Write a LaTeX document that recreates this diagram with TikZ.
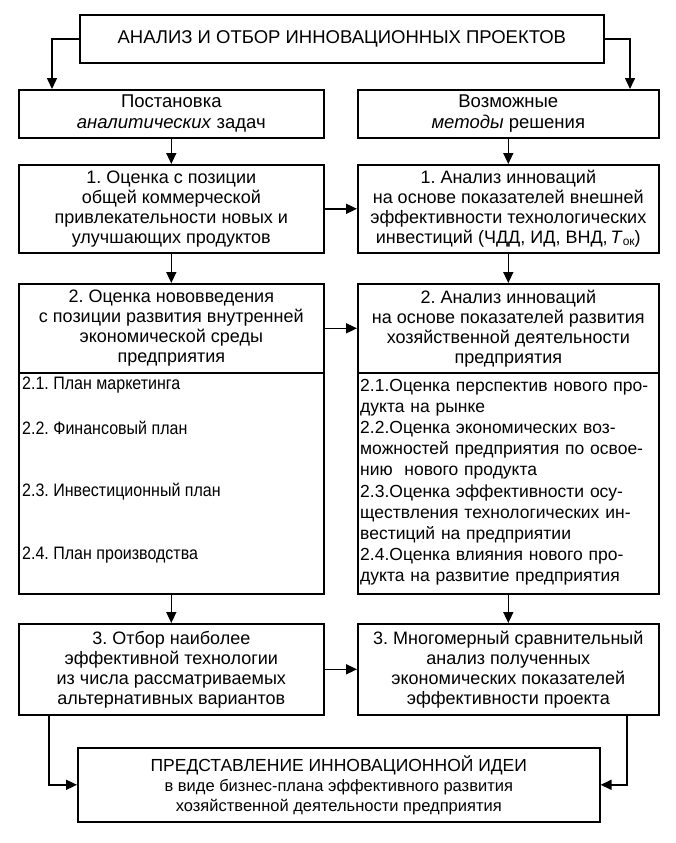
\documentclass[tikz,border=0pt]{standalone}
\usepackage{fontspec}
\setmainfont{Liberation Sans}
\newfontfamily\condfont[FakeStretch=0.89]{Liberation Sans}
\usetikzlibrary{arrows.meta}
\frenchspacing
\begin{document}
\begin{tikzpicture}[x=1pt,y=-1pt,
  box/.style={draw, line width=1.6pt, rectangle, inner sep=0pt, anchor=north west, align=center, font=\fontsize{18}{20}\selectfont},
  arr/.style={line width=1.6pt, -{Triangle[length=11pt,width=10pt]}},
  subitem/.style={anchor=west, inner sep=0pt, font=\condfont\fontsize{18}{20}\selectfont}]
\useasboundingbox (0,0) rectangle (675,843);
\node[box, minimum width=524pt, minimum height=48pt, font=\fontsize{18.5}{20}\selectfont] (top) at (79,14) {АНАЛИЗ И ОТБОР ИННОВАЦИОННЫХ ПРОЕКТОВ};
\node[box, minimum width=305pt, minimum height=48pt, font=\fontsize{18.5}{21}\selectfont] (post) at (18,89) {Постановка\\\textit{аналитических} задач};
\node[box, minimum width=301pt, minimum height=48pt, font=\fontsize{18.5}{21}\selectfont] (meth) at (357,89) {Возможные\\\textit{методы} решения};
\node[box, minimum width=305pt, minimum height=88pt] (l1) at (18,164) {1. Оценка с позиции\\общей коммерческой\\привлекательности новых и\\улучшающих продуктов};
\node[box, minimum width=301pt, minimum height=88pt] (r1) at (357,164) {1. Анализ инноваций\\на основе показателей внешней\\эффективности технологических\\инвестиций (ЧДД, ИД, ВНД,\,\textit{Т}\raisebox{-1.5pt}{\fontsize{12}{12}\selectfont ок})};
\node[box, minimum width=305pt, minimum height=89pt] (l2) at (18,283) {2. Оценка нововведения\\с позиции развития внутренней\\экономической среды\\предприятия};
\node[box, minimum width=301pt, minimum height=89pt] (r2) at (357,283) {2. Анализ инноваций\\на основе показателей развития\\хозяйственной деятельности\\предприятия};
\node[box, minimum width=305pt, minimum height=221pt] (l2b) at (18,372) {};
\node[box, minimum width=301pt, minimum height=221pt] (r2b) at (357,372) {};
\node[subitem] (s21) at (22,385) {2.1. План маркетинга};
\node[subitem] (s22) at (22,428) {2.2. Финансовый план};
\node[subitem] (s23) at (22,492) {2.3. Инвестиционный план};
\node[subitem] (s24) at (22,555) {2.4. План производства};
\node[anchor=base west, inner sep=0pt, text width=296pt, align=left, font=\fontsize{17.5}{21.2}\selectfont] (rsub) at (360,391) {%
\makebox[\linewidth][s]{2.1.Оценка перспектив нового про-}\\
дукта на рынке\\
\makebox[\linewidth][s]{2.2.Оценка экономических воз-}\\
\makebox[\linewidth][s]{можностей предприятия по освое-}\\
нию~ нового продукта\\
\makebox[\linewidth][s]{2.3.Оценка эффективности осу-}\\
\makebox[\linewidth][s]{ществления технологических ин-}\\
вестиций на предприятии\\
\makebox[\linewidth][s]{2.4.Оценка влияния нового про-}\\
дукта на развитие предприятия};
\node[box, minimum width=305pt, minimum height=91pt] (l3) at (18,623) {3. Отбор наиболее\\эффективной технологии\\из числа рассматриваемых\\альтернативных вариантов};
\node[box, minimum width=301pt, minimum height=91pt] (r3) at (357,623) {3. Многомерный сравнительный\\анализ полученных\\экономических показателей\\эффективности проекта};
\node[box, minimum width=522pt, minimum height=74pt, font=\fontsize{16.5}{20}\selectfont] (bot) at (77,747) {{\fontsize{17.5}{20}\selectfont ПРЕДСТАВЛЕНИЕ ИННОВАЦИОННОЙ ИДЕИ}\\в виде бизнес-плана эффективного развития\\хозяйственной деятельности предприятия};
\coordinate (xL) at (52,0);
\coordinate (xR) at (630,0);
\coordinate (bL) at (49,0);
\coordinate (bR) at (627,0);
\draw[arr] (top.west) -| (xL |- post.north);
\draw[arr] (top.east) -| (xR |- meth.north);
\draw[arr] (post.south) -- (l1.north);
\draw[arr] (meth.south) -- (r1.north);
\draw[arr] (l1.south) -- (l2.north);
\draw[arr] (r1.south) -- (r2.north);
\draw[arr] (l2b.south) -- (l3.north);
\draw[arr] (r2b.south) -- (r3.north);
\draw[arr] (l1.east) -- (r1.west);
\draw[arr] (l2.east) -- (r2.west);
\draw[arr] (l3.east) -- (r3.west);
\draw[arr] (bL |- l3.south) |- (bot.west);
\draw[arr] (bR |- r3.south) |- (bot.east);
\end{tikzpicture}
\end{document}
